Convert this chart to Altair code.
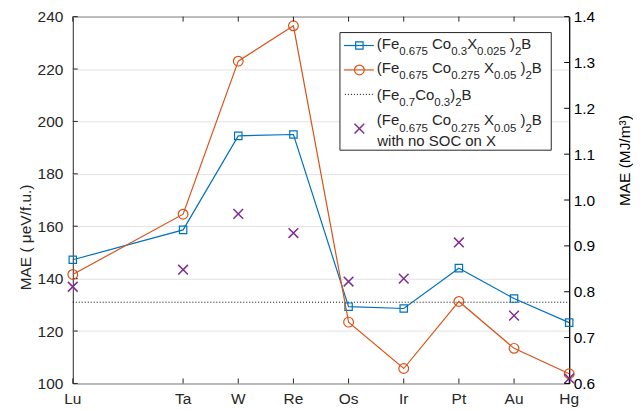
import altair as alt
import pandas as pd
import re

# ---------------- data ----------------
elements = ['Lu', 'Ta', 'W', 'Re', 'Os', 'Ir', 'Pt', 'Au', 'Hg']
atomic_number = [71, 73, 74, 75, 76, 77, 78, 79, 80]
mae_x0025 = [147.2, 158.6, 194.5, 195.0, 129.3, 128.6, 144.0, 132.4, 123.2]
mae_x005 = [141.6, 164.6, 223.0, 236.5, 123.4, 105.7, 131.3, 113.4, 103.7]
mae_nosoc = [136.9, 143.4, 164.7, 157.4, 138.9, 140.0, 153.8, 125.9, 101.9]
mae_base = [131.0]
left_ticks = [100, 120, 140, 160, 180, 200, 220, 240]
right_ticks = [0.6, 0.7, 0.8, 0.9, 1.0, 1.1, 1.2, 1.3, 1.4]
legend_labels = [
    "(Fe_{0.675} Co_{0.3}X_{0.025} )_{2}B",
    "(Fe_{0.675} Co_{0.275} X_{0.05} )_{2}B",
    "(Fe_{0.7}Co_{0.3})_{2}B",
    "(Fe_{0.675} Co_{0.275} X_{0.05} )_{2}B",
    "with no SOC on X",
]
left_title = "MAE ( μeV/f.u.)"
right_title = "MAE (MJ/m³)"

# ---------------- style / layout ----------------
FONT = "Liberation Sans"
AX = "#262626"
BLUE = "#0072BD"
ORANGE = "#D95319"
PURPLE = "#7E2F8E"
W, H = 498, 368
FS = 15.5
LEG_MAIN, LEG_SUB = 15, 11.5

# Arial/Helvetica advance widths (per 1000 em)
CW = {' ': 278, '(': 333, ')': 333, '.': 278, 'F': 611, 'e': 556, 'C': 722,
      'o': 556, 'X': 667, 'B': 667, 'w': 722, 'i': 222, 't': 278, 'h': 556,
      'n': 556, 'S': 667, 'O': 778}
for d in '0123456789':
    CW[d] = 556


def tw(s, fs):
    return sum(CW.get(ch, 556) for ch in s) * fs / 1000.0


def parse(label):
    parts = []
    pos = 0
    for m in re.finditer(r"_\{([^}]*)\}", label):
        if m.start() > pos:
            parts.append((label[pos:m.start()], False))
        parts.append((m.group(1), True))
        pos = m.end()
    if pos < len(label):
        parts.append((label[pos:], False))
    return parts


# (x start, main baseline) of each legend text row, plot coordinates
row_pos = [(305, 32.5), (305, 56.5), (305, 83.5), (305, 109), (305.5, 130)]
SUB_DY = 6.5
rows = []
for label, (x0, yb) in zip(legend_labels, row_pos):
    x = x0
    for txt, sub in parse(label):
        fs = LEG_SUB if sub else LEG_MAIN
        lead = len(txt) - len(txt.lstrip(' '))
        x += tw(' ' * lead, fs)
        core = txt.strip(' ')
        if core:
            rows.append({'tx': core, 'px': x, 'py': yb + (SUB_DY if sub else 0), 'fs': fs})
        x += tw(txt.lstrip(' '), fs)
legend_df = pd.DataFrame(rows)

df = pd.DataFrame({'el': elements, 'z': atomic_number, 'a': mae_x0025,
                   'b': mae_x005, 'c': mae_nosoc})

xsc = alt.Scale(domain=[71, 80], nice=False, zero=False)
ysc = alt.Scale(domain=[100, 240], nice=False, zero=False)
rsc = alt.Scale(domain=[0.6, 1.4], nice=False, zero=False)

one = pd.DataFrame({'k': [0]})

# left axis + inward ticks
left_layer = alt.Chart(pd.DataFrame({'v': left_ticks})).mark_rule(color=AX, strokeWidth=1).encode(
    y=alt.Y('v:Q', scale=ysc, axis=alt.Axis(
        orient='left', values=left_ticks, grid=True, gridColor='#e2e2e2', gridWidth=1,
        domain=False, tickSize=0, labelPadding=10, labelColor=AX, labelFontSize=FS,
        title=left_title, titleFontSize=FS, titleColor=AX, titleAngle=270,
        titleBaseline='alphabetic', titleAlign='center', titleX=-42, titleY=221)),
    x=alt.value(0), x2=alt.value(5))

# right axis + inward ticks
right_layer = alt.Chart(pd.DataFrame({'r': right_ticks})).mark_rule(color='black', strokeWidth=1).encode(
    y=alt.Y('r:Q', scale=rsc, axis=alt.Axis(
        orient='right', values=right_ticks, format='.1f', grid=False,
        domain=True, domainColor='black', domainWidth=1, tickSize=0, labelPadding=4,
        labelColor='black', labelFontSize=FS,
        title=right_title, titleFontSize=FS, titleColor='black', titleAngle=270,
        titleBaseline='alphabetic', titleAlign='center', titleX=60, titleY=144)),
    x=alt.value(W - 5), x2=alt.value(W))

# bottom inward ticks and element labels
bottom_layer = alt.Chart(df).mark_rule(color=AX, strokeWidth=1).encode(
    x=alt.X('z:Q', scale=xsc, axis=None),
    y=alt.value(H), y2=alt.value(H - 5))

bottom_labels = alt.Chart(df).mark_text(baseline='top', align='center', font=FONT,
                                        fontSize=FS, color=AX).encode(
    x=alt.X('z:Q', scale=xsc, axis=None),
    y=alt.value(H + 8.5),
    text='el:N')

top_layer = alt.Chart(df).mark_rule(color=AX, strokeWidth=1).encode(
    x=alt.X('z:Q', scale=xsc, axis=None),
    y=alt.value(0), y2=alt.value(5))

base_rule = alt.Chart(pd.DataFrame({'m': mae_base})).mark_rule(
    color='black', strokeDash=[1, 2], strokeWidth=1).encode(
    y=alt.Y('m:Q', scale=ysc, axis=None), x=alt.value(0), x2=alt.value(W))


def series(col, color, shape, size, sw=1.2, line=True):
    layers = []
    if line:
        layers.append(alt.Chart(df).mark_line(color=color, strokeWidth=1.2).encode(
            x=alt.X('z:Q', scale=xsc, axis=None),
            y=alt.Y(col + ':Q', scale=ysc, axis=None)))
    layers.append(alt.Chart(df).mark_point(shape=shape, size=size, filled=False,
                                           color=color, strokeWidth=sw, opacity=1).encode(
        x=alt.X('z:Q', scale=xsc, axis=None),
        y=alt.Y(col + ':Q', scale=ysc, axis=None)))
    return layers


XSHAPE = 'M-1,-1L1,1M-1,1L1,-1'
blue = series('a', BLUE, 'square', 55)
orange = series('b', ORANGE, 'circle', 95)
purple = series('c', PURPLE, XSHAPE, 95, sw=1.5, line=False)

# legend
leg_box = alt.Chart(one).mark_rect(fill='white', stroke=AX, strokeWidth=1).encode(
    x=alt.value(268), x2=alt.value(480), y=alt.value(16), y2=alt.value(134))
leg_marks = []
sym_y = [29, 53.5, 78, 112.3]
leg_marks.append(alt.Chart(one).mark_rule(color=BLUE, strokeWidth=1.2).encode(
    x=alt.value(272), x2=alt.value(302), y=alt.value(sym_y[0])))
leg_marks.append(alt.Chart(one).mark_point(shape='square', size=55, filled=False, color=BLUE,
                                           strokeWidth=1.2, opacity=1).encode(
    x=alt.value(287.5), y=alt.value(sym_y[0])))
leg_marks.append(alt.Chart(one).mark_rule(color=ORANGE, strokeWidth=1.2).encode(
    x=alt.value(272), x2=alt.value(302), y=alt.value(sym_y[1])))
leg_marks.append(alt.Chart(one).mark_point(shape='circle', size=95, filled=False, color=ORANGE,
                                           strokeWidth=1.2, opacity=1).encode(
    x=alt.value(287.5), y=alt.value(sym_y[1])))
leg_marks.append(alt.Chart(one).mark_rule(color='black', strokeWidth=1, strokeDash=[1, 2]).encode(
    x=alt.value(273), x2=alt.value(301), y=alt.value(sym_y[2])))
leg_marks.append(alt.Chart(one).mark_point(shape=XSHAPE, size=95, filled=False, color=PURPLE,
                                           strokeWidth=1.5, opacity=1).encode(
    x=alt.value(287.5), y=alt.value(sym_y[3])))
leg_text = alt.Chart(legend_df).mark_text(align='left', baseline='alphabetic', font=FONT,
                                          color=AX).encode(
    x=alt.X('px:Q', scale=None), y=alt.Y('py:Q', scale=None), text='tx:N',
    size=alt.Size('fs:Q', scale=None, legend=None))

chart = alt.layer(
    left_layer, base_rule, *blue, *orange, *purple,
    bottom_layer, bottom_labels, top_layer, right_layer,
    leg_box, *leg_marks, leg_text
).resolve_scale(y='independent').properties(
    width=W, height=H,
    autosize=alt.AutoSizeParams(type='none'),
    padding={'left': 65, 'top': 8, 'right': 64, 'bottom': 26},
).configure_view(stroke=AX, strokeWidth=1).configure_axis(
    labelFont=FONT, titleFont=FONT, titleFontWeight='normal'
)

chart.save("out.html", embed_options={"renderer": "svg", "actions": False})
